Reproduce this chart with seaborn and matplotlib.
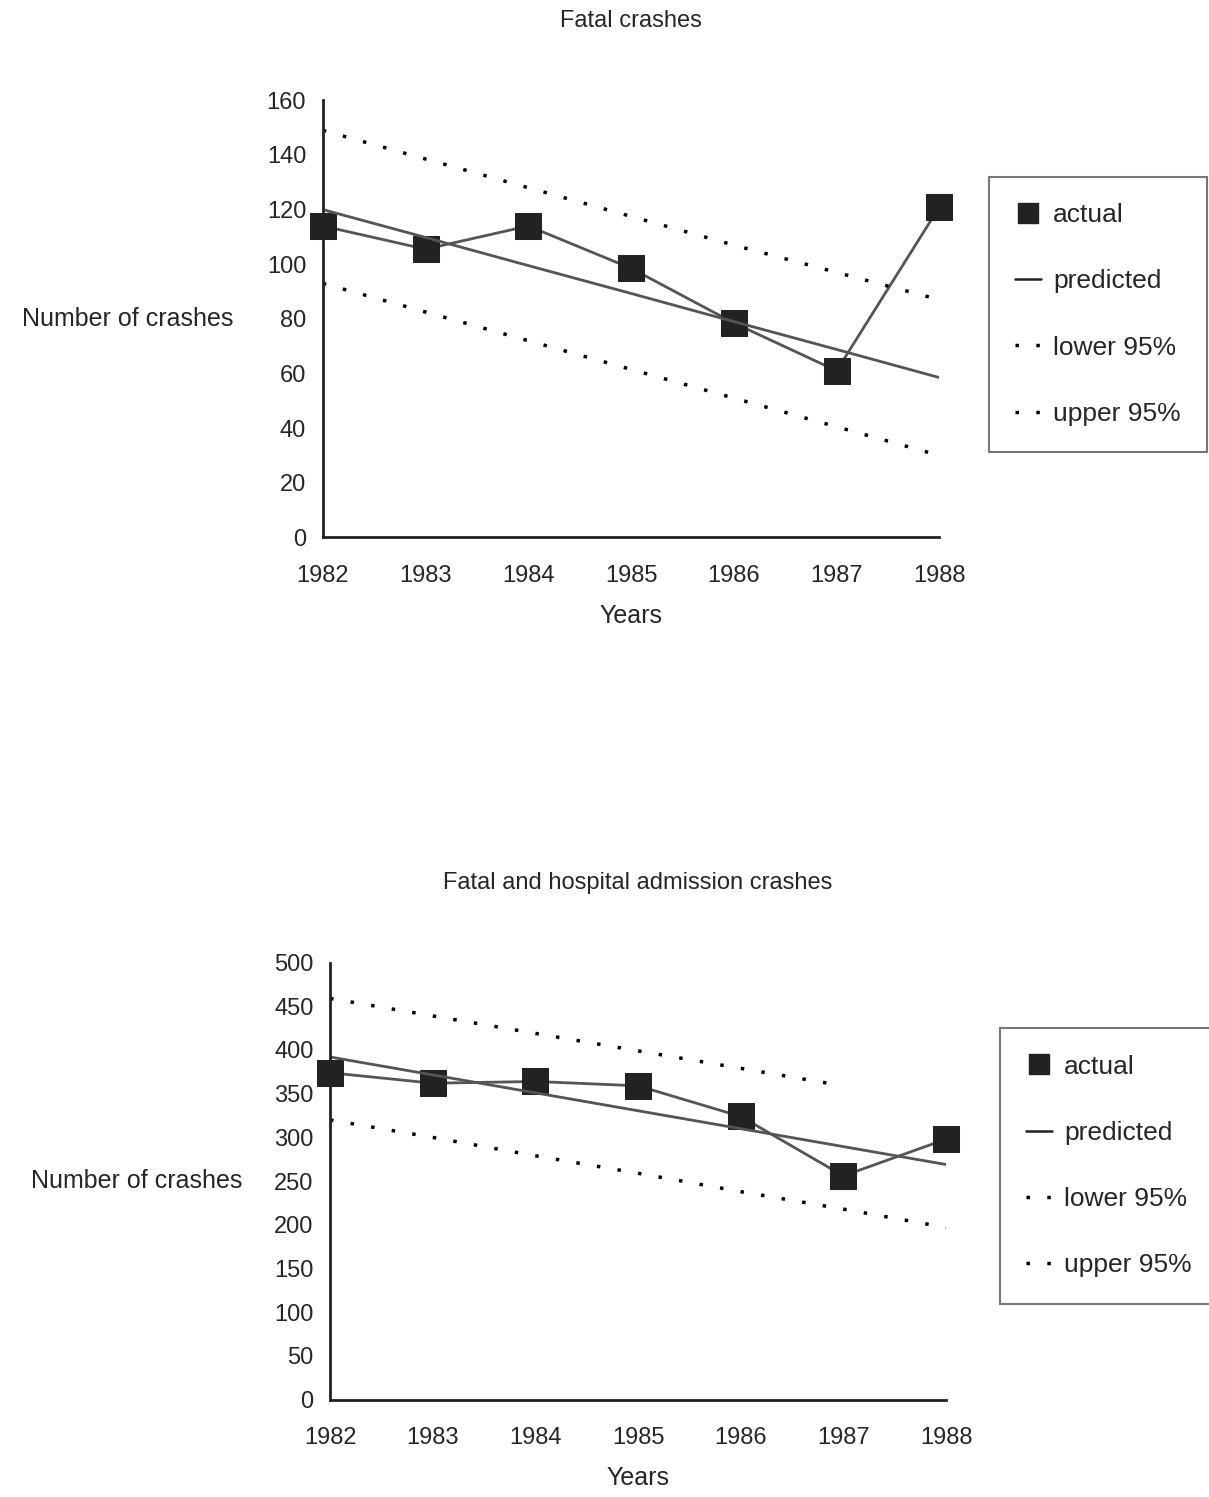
import seaborn as sns
import matplotlib.pyplot as plt
from matplotlib.lines import Line2D
import pandas as pd
import numpy as np

# Values
years = [1982, 1983, 1984, 1985, 1986, 1987, 1988]

fatal_actual = [114, 105.5, 114, 98.5, 78.5, 61, 121]
fatal_predicted = [120, 109.8, 99.5, 89.3, 79, 68.8, 58.5]
fatal_lower = [93, 82.5, 72, 61.5, 51, 40.5, 30]
fatal_upper = [149, 138.5, 128, 117.5, 107, 97, 87]

hosp_actual = [374, 362, 364, 359, 324, 256, 298]
hosp_predicted = [392, 371.5, 351, 330.5, 310, 289.5, 269]
hosp_lower = [320, 300, 279, 259, 238, 218, 197]
hosp_upper = [459, 439, 419, 399, 379, 359, np.nan]

sns.set_style("white")
plt.rcParams["font.family"] = ["Liberation Sans", "DejaVu Sans"]

fig = plt.figure(figsize=(12.09, 14.97), dpi=100)
ax1 = fig.add_axes([0.267, 0.641, 0.510, 0.292])
ax2 = fig.add_axes([0.273, 0.065, 0.5095, 0.292])

dots = (0, (1, 5))


def draw(ax, actual, predicted, lower, upper, ymax, ystep, title, leg_box, ylab_x):
    df = pd.DataFrame({"year": years, "actual": actual, "predicted": predicted,
                       "lower": lower, "upper": upper})
    sns.lineplot(data=df, x="year", y="actual", ax=ax, color="#555555", lw=2,
                 marker="s", markersize=19, markerfacecolor="#222222",
                 markeredgecolor="#222222", clip_on=False)
    sns.lineplot(data=df, x="year", y="predicted", ax=ax, color="#555555", lw=2)
    sns.lineplot(data=df, x="year", y="lower", ax=ax, color="black", lw=2.5,
                 linestyle=dots)
    sns.lineplot(data=df, x="year", y="upper", ax=ax, color="black", lw=2.5,
                 linestyle=dots)

    ax.set_xlim(years[0], years[-1])
    ax.set_ylim(0, ymax)
    ax.set_xticks(years)
    ax.set_yticks(np.arange(0, ymax + 1, ystep))
    for s in ["top", "right"]:
        ax.spines[s].set_visible(False)
    for s in ["left", "bottom"]:
        ax.spines[s].set_linewidth(2)
        ax.spines[s].set_color("#222222")
    ax.tick_params(direction="inout", length=12, width=1.8, labelsize=17,
                   color="#222222", pad=14)
    ax.tick_params(axis="y", pad=6)

    ax.set_title(title, fontsize=17, pad=53)
    ax.set_xlabel("Years", fontsize=18, labelpad=12)
    ax.set_ylabel("")
    pos = ax.get_position()
    fig.text(ylab_x, pos.y0 + pos.height * 0.5, "Number of crashes", fontsize=18,
             ha="right", va="center")

    handles = [
        Line2D([], [], linestyle="none", marker="s", markersize=15,
               color="#222222"),
        Line2D([], [], color="#222222", lw=1.8),
        Line2D([], [], color="black", lw=2.5, linestyle=dots),
        Line2D([], [], color="black", lw=2.5, linestyle=dots),
    ]
    labels = ["actual", "predicted", "lower 95%", "upper 95%"]
    leg = ax.legend(handles, labels, loc="upper left", bbox_to_anchor=leg_box,
                    fontsize=19, frameon=True, fancybox=False, shadow=False,
                    labelspacing=1.6, handlelength=1.0, handletextpad=0.45,
                    borderpad=1.0, borderaxespad=0, edgecolor="#555555")
    leg.get_frame().set_linewidth(1.5)


draw(ax1, fatal_actual, fatal_predicted, fatal_lower, fatal_upper, 160, 20,
     "Fatal crashes", (1.08, 0.825), 233 / 1209)
draw(ax2, hosp_actual, hosp_predicted, hosp_lower, hosp_upper, 500, 50,
     "Fatal and hospital admission crashes", (1.087, 0.85), 242 / 1209)

plt.savefig("out.png", dpi=100)
